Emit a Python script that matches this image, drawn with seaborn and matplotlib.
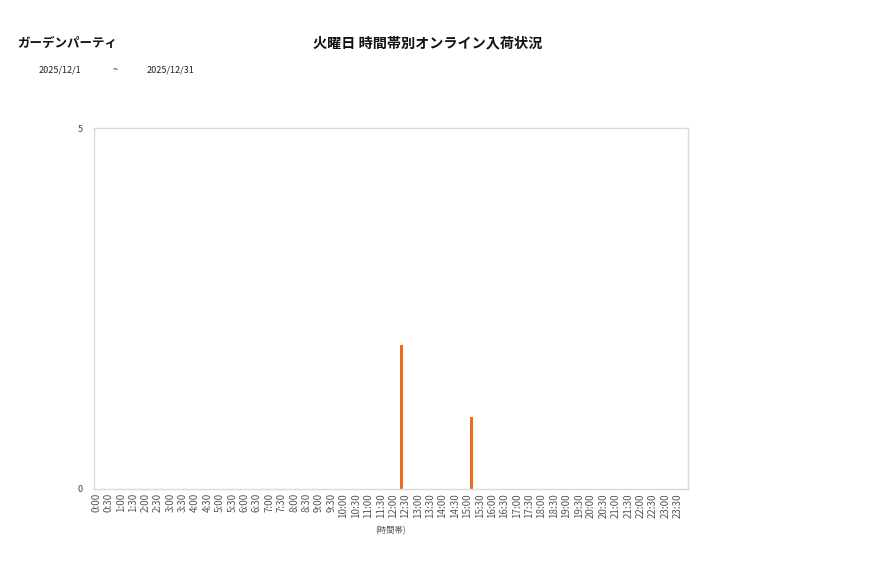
import numpy as np
import pandas as pd
import matplotlib
matplotlib.use("Agg")
import matplotlib.pyplot as plt
import seaborn as sns

# 10-minute slots over the day, labels shown every 30 minutes
SLOTS = [f"{h}:{m:02d}" for h in range(24) for m in range(0, 60, 10)]
TICK_LABELS = [f"{h}:{m:02d}" for h in range(24) for m in (0, 30)]
ARRIVAL_SLOTS = ["12:20", "15:10"]
ARRIVAL_COUNTS = [2, 1]

SHOP_NAME = "ガーデンパーティ"
TITLE = "火曜日 時間帯別オンライン入荷状況"
DATE_FROM = "2025/12/1"
DATE_TO = "2025/12/31"
X_LABEL = "(時間帯)"

BAR_COLOR = "#F26B1D"

# ==========================================
# build data
# ==========================================
counts = dict(zip(ARRIVAL_SLOTS, ARRIVAL_COUNTS))
df = pd.DataFrame({
    "slot": SLOTS,
    "count": [counts.get(s, 0) for s in SLOTS],
})

sns.set_theme(style="white")
plt.rcParams["font.family"] = ["Noto Sans CJK JP", "DejaVu Sans"]

fig = plt.figure(figsize=(8.77, 5.78), dpi=100)
ax = fig.add_axes([94 / 877, 1 - 489 / 578, 594 / 877, 361 / 578])

sns.barplot(data=df, x="slot", y="count", color=BAR_COLOR, width=0.8,
            saturation=1, linewidth=0, ax=ax, order=SLOTS)

ax.set_xlim(-0.5, len(SLOTS) - 0.5)
ax.set_ylim(0, 5)
ax.set_yticks([0, 5])
ax.set_yticklabels(["0", "5"], fontsize=6.5, color="#444444")
tick_pos = [SLOTS.index(t) for t in TICK_LABELS]
ax.set_xticks(tick_pos)
ax.set_xticklabels(TICK_LABELS, rotation=90, fontsize=7, color="#555555")
ax.tick_params(axis="y", length=0, pad=8)
ax.tick_params(axis="x", length=0, pad=3)
ax.set_ylabel("")
ax.set_xlabel(X_LABEL, fontsize=6, color="#555555", labelpad=6)

for side in ["left", "right", "top", "bottom"]:
    ax.spines[side].set_visible(True)
    ax.spines[side].set_color("#D9D9D9")
    ax.spines[side].set_linewidth(1)

fig.text(17 / 877, 1 - 43 / 578, SHOP_NAME, fontsize=9, fontweight="bold",
         va="center", ha="left", color="#111111")
fig.text(428 / 877, 1 - 43 / 578, TITLE, fontsize=10.2, fontweight="bold",
         va="center", ha="center", color="#111111")
fig.text(39 / 877, 1 - 70 / 578, DATE_FROM, fontsize=6.5, va="center", ha="left", color="#222222")
fig.text(113 / 877, 1 - 70 / 578, "~", fontsize=6.5, va="center", ha="left", color="#222222")
fig.text(147 / 877, 1 - 70 / 578, DATE_TO, fontsize=6.5, va="center", ha="left", color="#222222")

fig.savefig("out.png", dpi=100, facecolor="white")
